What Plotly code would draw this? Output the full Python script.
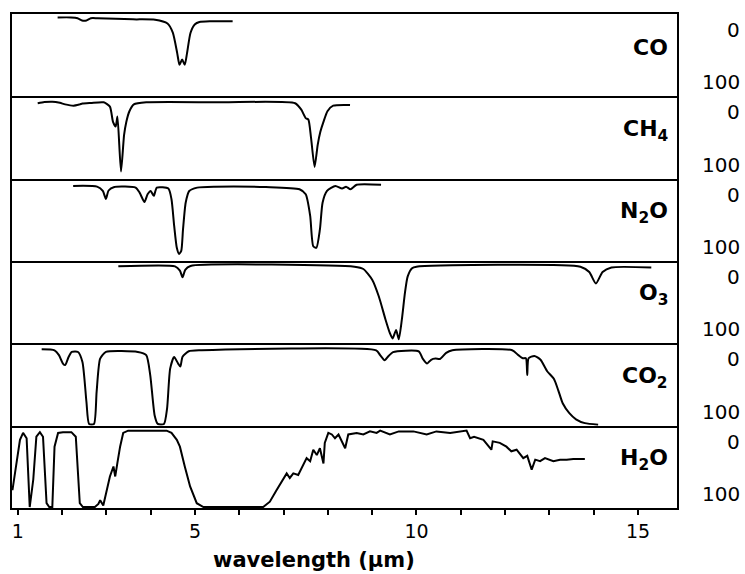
import plotly.graph_objects as go
from plotly.subplots import make_subplots

# ---------------- data ----------------
molecules = ["CO", "CH<sub>4</sub>", "N<sub>2</sub>O", "O<sub>3</sub>", "CO<sub>2</sub>", "H<sub>2</sub>O"]
scale_labels = ["0", "100"]
x_tick_vals = [1, 5, 10, 15]
x_tick_text = ["1", "5", "10", "15"]

co_wl = [1.90, 2.20, 2.35, 2.45, 2.55, 2.65, 2.80, 3.60, 4.10, 4.38, 4.50, 4.60, 4.65, 4.71, 4.77, 4.82, 4.90, 5.00, 5.10, 5.34, 5.85]
co_ab = [-2, -2, -1, 2, 2, -1, -1, 0.5, 1, 6, 18, 45, 60, 53, 60, 45, 18, 7, 4, 3, 3]

ch4_wl = [1.45, 1.60, 1.78, 1.95, 2.07, 2.26, 2.40, 2.46, 2.65, 2.94, 3.08, 3.15, 3.21, 3.25, 3.33, 3.40, 3.45, 3.52, 3.62, 3.90, 5.60, 7.26, 7.40, 7.50, 7.56, 7.62, 7.70, 7.77, 7.83, 7.90, 7.99, 8.12, 8.50]
ch4_ab = [2.6, 1, 0.5, 2, 4, 5.7, 4, 3, 2.2, 1.3, 7, 27, 33, 20, 92, 44, 27, 13, 4, 1.3, 1.3, 2.6, 11, 22, 24, 48, 86, 57, 40, 27, 13, 5.7, 4.8]

n2o_wl = [2.25, 2.79, 2.92, 2.99, 3.05, 3.18, 3.66, 3.75, 3.86, 3.93, 4.00, 4.07, 4.14, 4.40, 4.47, 4.53, 4.59, 4.64, 4.69, 4.73, 4.79, 4.87, 5.05, 5.45, 6.60, 7.36, 7.50, 7.60, 7.67, 7.74, 7.82, 7.88, 7.98, 8.17, 8.32, 8.41, 8.51, 8.65, 9.20]
n2o_ab = [3, 3.9, 9.6, 20, 9, 4.4, 5.2, 11.8, 24, 14, 9.6, 16, 5.2, 6.5, 20.5, 55, 84, 92, 88, 60, 25, 9.6, 5.2, 4, 4.5, 7.4, 14, 42, 82, 84, 60, 25, 9.6, 3, 6.5, 4, 7.4, 1.5, 1.5]

o3_wl = [3.27, 4.55, 4.66, 4.72, 4.78, 4.90, 8.60, 8.80, 9.00, 9.15, 9.30, 9.40, 9.46, 9.54, 9.60, 9.67, 9.74, 9.80, 9.90, 10.00, 13.70, 13.90, 14.05, 14.20, 14.40, 15.30]
o3_ab = [0.5, 0.5, 6, 14.8, 5, 0, 1, 4, 18, 40, 70, 88, 95, 84, 96, 70, 35, 14, 3, 1, 1, 8, 23, 8, 2, 2]

co2_wl = [1.54, 1.83, 1.93, 2.02, 2.07, 2.15, 2.22, 2.36, 2.46, 2.55, 2.61, 2.72, 2.78, 2.86, 2.99, 3.71, 3.90, 3.99, 4.09, 4.16, 4.30, 4.37, 4.44, 4.53, 4.62, 4.67, 4.72, 4.86, 5.15, 9.09, 9.18, 9.28, 9.37, 9.47, 10.05, 10.14, 10.24, 10.33, 10.43, 10.53, 10.67, 10.81, 12.16, 12.30, 12.40, 12.47, 12.50, 12.53, 12.66, 12.80, 12.95, 13.10, 13.20, 13.30, 13.45, 13.60, 13.80, 14.10]
co2_ab = [1.3, 2.6, 9, 20, 22, 11, 4.8, 4.8, 18, 70, 99, 99, 57, 13.5, 4.8, 4.8, 9, 35, 88, 99, 99, 79, 26.6, 11.4, 20, 24, 11, 3.9, 2.6, 2.6, 9, 15.7, 10, 5, 4, 13.5, 20, 15, 13.5, 14, 6, 2.6, 2.6, 9, 13, 13, 35, 13, 10, 15, 30, 40, 55, 72, 85, 93, 98, 100]

h2o_wl = [0.88, 0.97, 1.05, 1.12, 1.20, 1.27, 1.35, 1.42, 1.50, 1.57, 1.65, 1.71, 1.78, 1.83, 1.91, 2.02, 2.21, 2.31, 2.40, 2.47, 2.74, 2.82, 2.86, 2.93, 3.01, 3.08, 3.16, 3.20, 3.25, 3.31, 3.38, 3.49, 4.36, 4.47, 4.59, 4.66, 4.77, 4.89, 5.04, 5.19, 6.54, 6.69, 6.84, 6.99, 7.07, 7.14, 7.22, 7.33, 7.45, 7.52, 7.60, 7.67, 7.75, 7.82, 7.90, 7.93, 8.01, 8.09, 8.16, 8.24, 8.39, 8.46, 8.65, 8.80, 8.95, 9.10, 9.18, 9.40, 9.60, 9.93, 10.23, 10.45, 10.76, 11.13, 11.21, 11.30, 11.51, 11.69, 11.72, 11.88, 12.03, 12.14, 12.26, 12.41, 12.50, 12.60, 12.68, 12.79, 12.90, 13.09, 13.24, 13.39, 13.54, 13.80]
h2o_ab = [78, 42, 12, 3, 10, 100, 64, 8, 2, 8, 95, 100, 100, 21, 3, 2, 2, 8, 95, 100, 100, 96, 91, 98, 78, 60, 47, 60, 42, 21, 3, 0, 0, 3, 12, 21, 47, 73, 95, 100, 100, 93, 78, 64, 56, 62, 56, 58, 45, 36, 40, 25, 32, 23, 43, 16, 3, 5, 10, 5, 23, 5, 3, 5, 1, 3, 0, 5, 1, 1, 5, 1, 3, 0, 10, 8, 12, 25, 14, 16, 21, 27, 25, 36, 33, 51, 38, 40, 36, 40, 38, 38, 37, 37]

series = [
    (co_wl, co_ab, "spline"),
    (ch4_wl, ch4_ab, "spline"),
    (n2o_wl, n2o_ab, "spline"),
    (o3_wl, o3_ab, "spline"),
    (co2_wl, co2_ab, "spline"),
    (h2o_wl, h2o_ab, "linear"),
]
for wl, ab, _ in series:
    assert len(wl) == len(ab), (len(wl), len(ab))

# ---------------- figure ----------------
n = len(series)
fig = make_subplots(rows=n, cols=1, shared_xaxes=True, vertical_spacing=0)

FONT = "DejaVu Sans"
LW = 2
for i, (wl, ab, shape) in enumerate(series):
    fig.add_trace(
        go.Scatter(x=wl, y=ab, mode="lines",
                   line=dict(color="black", width=2, shape=shape, smoothing=0.6),
                   showlegend=False, hoverinfo="skip"),
        row=i + 1, col=1)
    fig.update_yaxes(range=[101.3, -6.5], showticklabels=False, ticks="",
                     showgrid=False, zeroline=False, showline=True,
                     linecolor="black", linewidth=LW, mirror=True,
                     row=i + 1, col=1)
    yref = "y domain" if i == 0 else f"y{i + 1} domain"
    fig.add_annotation(text=f"<b>{molecules[i]}</b>", xref="paper", yref=yref,
                       x=0.9895, y=0.59, xanchor="right", yanchor="middle",
                       showarrow=False, font=dict(family=FONT, size=22, color="black"))
    fig.add_annotation(text=scale_labels[0], xref="paper", yref=yref,
                       x=1.0977, y=0.806, xanchor="right", yanchor="middle",
                       showarrow=False, font=dict(family=FONT, size=20, color="black"))
    fig.add_annotation(text=scale_labels[1], xref="paper", yref=yref,
                       x=1.0977, y=0.17, xanchor="right", yanchor="middle",
                       showarrow=False, font=dict(family=FONT, size=20, color="black"))

# each panel draws only its bottom edge; the top panel also draws the top edge
fig.update_xaxes(range=[0.87, 15.88], showgrid=False, zeroline=False,
                 showline=True, linecolor="black", linewidth=LW, mirror=False,
                 ticks="", showticklabels=False)
fig.update_xaxes(mirror=True, row=1, col=1)
fig.update_xaxes(tickmode="array", tickvals=x_tick_vals, ticktext=x_tick_text,
                 ticks="outside", ticklen=5, tickwidth=2, tickcolor="black",
                 minor=dict(tick0=1, dtick=1, ticks="outside", ticklen=5,
                            tickwidth=2, tickcolor="black", showgrid=False),
                 showticklabels=True,
                 tickfont=dict(family=FONT, size=19, color="black"),
                 row=n, col=1)

fig.add_annotation(text="<b>wavelength (µm)</b>", xref="paper", yref="paper",
                   x=0.454, y=0, yshift=-52, xanchor="center", yanchor="middle",
                   showarrow=False, font=dict(family=FONT, size=21, color="black"))

fig.update_layout(
    width=745, height=574, template="none",
    margin=dict(l=12, r=68, t=14, b=66),
    paper_bgcolor="white", plot_bgcolor="white",
    showlegend=False,
)

fig.write_html("out.html")
